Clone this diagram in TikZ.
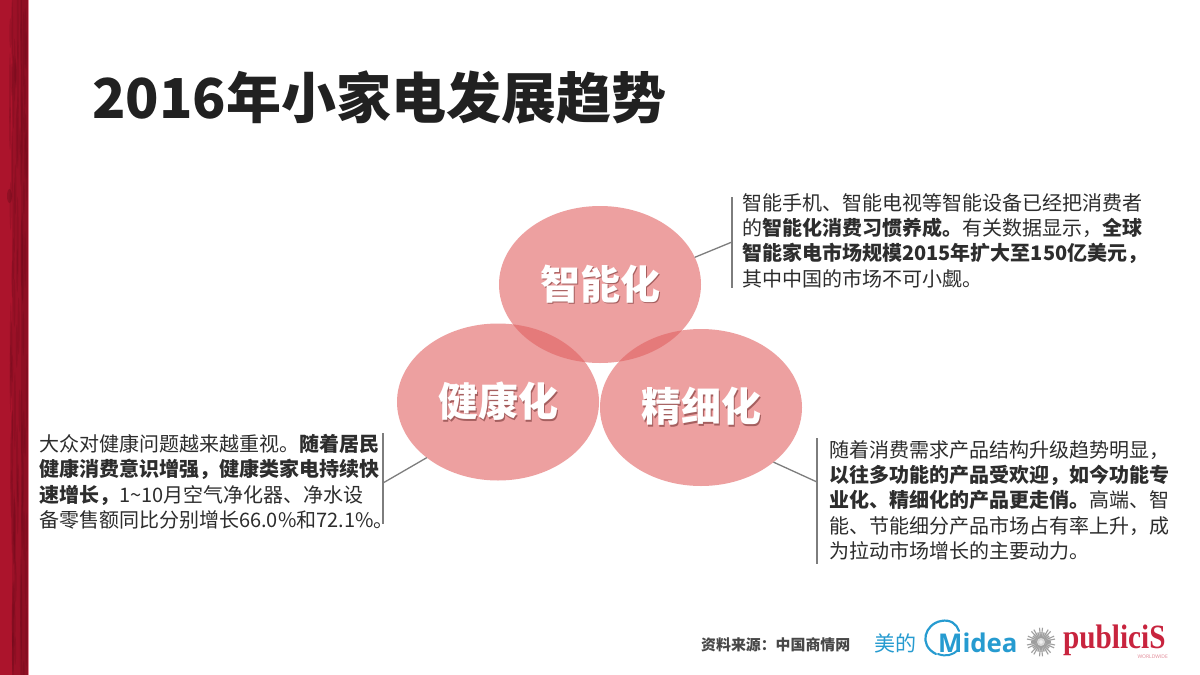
\documentclass[tikz,border=0pt]{standalone}
\usepackage{fontspec}
\setmainfont{Noto Sans CJK SC}
\newfontfamily\logosans{Open Sans}
\newfontfamily\logoserif{Liberation Serif}
\usetikzlibrary{shapes.geometric}
\definecolor{bubble}{RGB}{225,97,97}
\definecolor{leader}{RGB}{125,125,125}
\definecolor{ink}{RGB}{45,45,45}
\definecolor{midea}{RGB}{38,155,208}
\definecolor{pub}{RGB}{200,36,62}
\definecolor{barred}{RGB}{172,20,44}
\definecolor{bardark}{RGB}{105,10,26}
\definecolor{labshadow}{RGB}{165,95,95}
\newcommand{\shadowed}[1]{\raisebox{-2.5pt}{\makebox[0pt][l]{\raisebox{-1.6pt}{\hspace{1.6pt}\textcolor{labshadow}{#1}}}#1}}
\tikzset{
  bubblenode/.style={ellipse,inner sep=0pt,outer sep=0pt,minimum width=202pt,minimum height=157pt,
    fill=bubble,fill opacity=.6,text opacity=1,text=white,font=\fontsize{40}{42}\selectfont\bfseries},
  bodytext/.style={anchor=north west,inner sep=0pt,align=left,text=ink,font=\fontsize{20}{25.3}\selectfont},
  leaderline/.style={draw=leader,line width=1.3pt},
}
\begin{document}
\begin{tikzpicture}[x=1pt,y=-1pt]
\useasboundingbox (0,0) rectangle (1200,675);
\fill[white] (0,0) rectangle (1200,675);
% red side band
\fill[barred] (0,0) rectangle (27.5,675);
\fill[pub!55!white] (27.5,0) rectangle (29,675);
\fill[bardark,opacity=.25] (12,0) rectangle (27.5,675);
\fill[bardark,opacity=.25] (21,0) rectangle (27.5,675);
\pgfmathsetseed{7}
\foreach \i in {1,...,90}{
  \pgfmathsetmacro{\px}{10+rnd*17}
  \pgfmathsetmacro{\py}{rnd*675}
  \pgfmathsetmacro{\ph}{12+rnd*28}
  \fill[bardark,opacity=.25] (\px,\py) ellipse (1 and \ph);
}
\fill[bardark,opacity=.4] (9.5,196) ellipse (2.5 and 7);
% title
\node[anchor=west,inner sep=0pt,text=black!87,font=\fontsize{55}{60}\selectfont\bfseries] (title) at (92,98) {2016年小家电发展趋势};
% bubbles
\node[bubblenode] (smart) at (600,284.5) {\shadowed{智能化}};
\node[bubblenode] (health) at (498,402) {\shadowed{健康化}};
\node[bubblenode] (fine) at (701,407.5) {\shadowed{精细化}};
% brackets
\coordinate (smartA) at (732,197);\coordinate (smartB) at (732,288);\coordinate (smartJ) at (732,242);
\coordinate (healthA) at (383,433);\coordinate (healthB) at (383,524);\coordinate (healthJ) at (383,483);
\coordinate (fineA) at (817,438);\coordinate (fineB) at (817,564);\coordinate (fineJ) at (817,482);
\draw[leaderline] (smartA) -- (smartB);
\draw[leaderline] (healthA) -- (healthB);
\draw[leaderline] (fineA) -- (fineB);
\draw[leaderline] (smart.16.5) -- (smartJ);
\draw[leaderline] (health.218.3) -- (healthJ);
\draw[leaderline] (fine.-37) -- (fineJ);
% body texts
\node[bodytext] (smartText) at (742,193) {智能手机、智能电视等智能设备已经把消费者\\的\textbf{智能化消费习惯养成。}有关数据显示，\textbf{全球}\\\textbf{智能家电市场规模2015年扩大至150亿美元，}\\其中中国的市场不可小觑。};
\node[bodytext] (healthText) at (39,434) {大众对健康问题越来越重视。\textbf{随着居民}\\\textbf{健康消费意识增强，健康类家电持续快}\\\textbf{速增长，}1\textasciitilde 10月空气净化器、净水设\\备零售额同比分别增长66.0\%和72.1\%。};
\node[bodytext] (fineText) at (829,440) {随着消费需求产品结构升级趋势明显，\\\textbf{以往多功能的产品受欢迎，如今功能专}\\\textbf{业化、精细化的产品更走俏。}高端、智\\能、节能细分产品市场占有率上升，成\\为拉动市场增长的主要动力。};
% footer
\node[anchor=west,inner sep=0pt,text=black!72,font=\fontsize{14.9}{16}\selectfont\bfseries] (source) at (701,645) {资料来源：中国商情网};
\node[anchor=west,inner sep=0pt,text=midea,font=\fontsize{21}{24}\selectfont] (meidi) at (874,643) {美的};
\node[anchor=west,inner sep=0pt,text=midea,font=\fontsize{25.8}{30}\selectfont\logosans\bfseries] (mideaText) at (938,642.5) {Midea};
\draw[midea,line width=2.2pt,line cap=round] (936,654) .. controls (918,645) and (925,624) .. (941,621) .. controls (950,619) and (957,624) .. (959,631);
\draw[midea,line width=2pt,line cap=round] (938,654) .. controls (946,657) and (953,655) .. (958,650);
% sunburst
\coordinate (sun) at (1041,642);
\fill[black!16] (sun) circle (10);
\foreach \a in {0,12,...,348}{
  \pgfmathsetmacro{\r}{8+5*abs(sin(\a*5))}
  \draw[black!38,line width=1.1pt] (sun) ++(\a:2) -- ++(\a:\r);
}
\fill[white,opacity=.6] (sun) circle (4);
% publicis
\node[anchor=base west,inner sep=0pt,text depth=0pt,text=pub,font=\fontsize{34}{36}\selectfont\logoserif\bfseries] (publicis) at (1063,648.5) {\scalebox{.86}[1]{publiciS}};
\node[anchor=east,inner sep=0pt,text=pub!55!white,font=\fontsize{5}{6}\selectfont\logosans] (worldwide) at (1168,656.5) {WORLDWIDE};
\end{tikzpicture}
\end{document}
